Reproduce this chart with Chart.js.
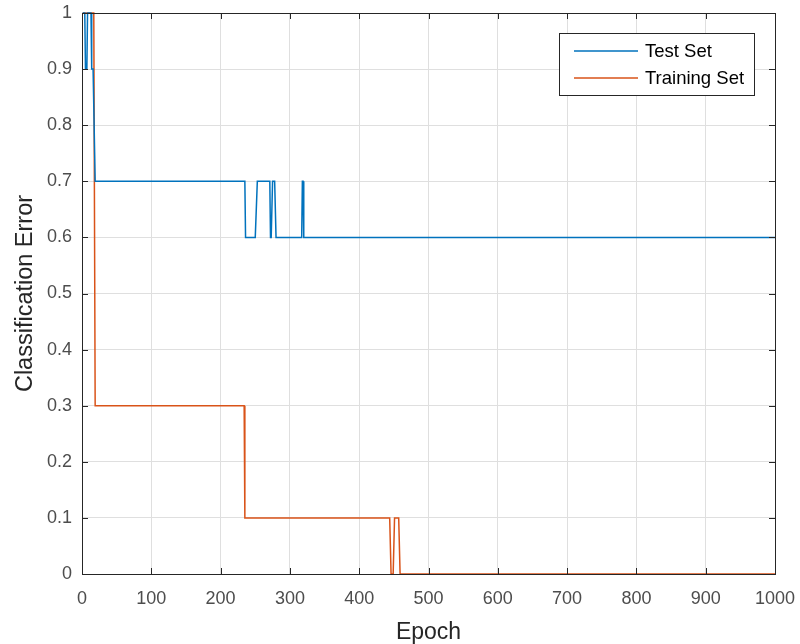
<!DOCTYPE html>
<html>
<head>
<meta charset="utf-8">
<script src="https://cdn.jsdelivr.net/npm/chart.js@4"></script>
<style>
  html, body { margin: 0; padding: 0; background: #fff; }
  #wrap { width: 800px; height: 644px; }
</style>
</head>
<body>
<div id="wrap"><canvas id="errChart" width="800" height="644"></canvas></div>
<script>
// Breakpoints: [epoch, classification error]
const testEpochs = [1, 4, 5, 7, 8, 13, 14, 16, 19, 235, 236, 250, 253, 271, 272, 273, 275, 278, 280, 317, 318, 319, 320, 1000];
const testError  = [1, 1, 0.9, 0.9, 1, 1, 0.9, 0.9, 0.7, 0.7, 0.6, 0.6, 0.7, 0.7, 0.6, 0.6, 0.7, 0.7, 0.6, 0.6, 0.7, 0.7, 0.6, 0.6];

const trainEpochs = [1, 17, 19, 234, 235, 444, 446, 449, 451, 457, 459, 1000];
const trainError  = [1, 1, 0.3, 0.3, 0.1, 0.1, 0, 0, 0.1, 0.1, 0, 0];

const xTicks = [0, 100, 200, 300, 400, 500, 600, 700, 800, 900, 1000];
const yTicks = [0, 0.1, 0.2, 0.3, 0.4, 0.5, 0.6, 0.7, 0.8, 0.9, 1];

const FONT = "'Liberation Sans', Arial, Helvetica, sans-serif";
const AXIS_COLOR = '#262626';
const TICK_TEXT = '#4d4d4d';

const toPoints = (xs, ys) => xs.map((x, i) => ({ x, y: ys[i] }));

// keep the plot box exactly where the layout padding puts it
const noEdgePadding = s => {
    s.paddingTop = 0; s.paddingBottom = 0;
    s.paddingLeft = 0; s.paddingRight = 0;
};

// MATLAB-style box, inward ticks and legend drawn on top of the data
const boxPlugin = {
    id: 'matlabBox',
    afterDatasetsDraw(chart) {
        const { ctx, chartArea: a, scales } = chart;
        ctx.save();
        ctx.strokeStyle = AXIS_COLOR;
        ctx.lineWidth = 1;
        ctx.beginPath();
        xTicks.forEach(v => {
            const px = Math.round(scales.x.getPixelForValue(v)) + 0.5;
            ctx.moveTo(px, a.bottom); ctx.lineTo(px, a.bottom - 6);
            ctx.moveTo(px, a.top); ctx.lineTo(px, a.top + 6);
        });
        yTicks.forEach(v => {
            const py = Math.round(scales.y.getPixelForValue(v)) + 0.5;
            ctx.moveTo(a.left, py); ctx.lineTo(a.left + 6, py);
            ctx.moveTo(a.right, py); ctx.lineTo(a.right - 6, py);
        });
        ctx.stroke();
        ctx.strokeRect(Math.round(a.left) + 0.5, Math.round(a.top) + 0.5,
            Math.round(a.right - a.left), Math.round(a.bottom - a.top));

        // legend
        const lx = 559.5, ly = 33.5, lw = 195, lh = 62;
        ctx.fillStyle = '#fff';
        ctx.fillRect(lx, ly, lw, lh);
        ctx.strokeStyle = AXIS_COLOR;
        ctx.strokeRect(lx, ly, lw, lh);
        ctx.font = '18.5px ' + FONT;
        ctx.textBaseline = 'middle';
        chart.data.datasets.forEach((ds, i) => {
            const y = 51 + i * 27;
            ctx.strokeStyle = ds.borderColor;
            ctx.lineWidth = 1.5;
            ctx.beginPath();
            ctx.moveTo(574, y); ctx.lineTo(638, y);
            ctx.stroke();
            ctx.fillStyle = '#000';
            ctx.fillText(ds.label, 645, y + 1);
        });
        ctx.restore();
    }
};

new Chart(document.getElementById('errChart'), {
    type: 'line',
    data: {
        datasets: [
            {
                label: 'Test Set',
                data: toPoints(testEpochs, testError),
                borderColor: '#0072BD',
                borderWidth: 1.5,
                pointRadius: 0,
                tension: 0,
                clip: 3
            },
            {
                label: 'Training Set',
                data: toPoints(trainEpochs, trainError),
                borderColor: '#D95319',
                borderWidth: 1.5,
                pointRadius: 0,
                tension: 0,
                clip: 3
            }
        ]
    },
    options: {
        responsive: false,
        animation: false,
        events: [],
        layout: { padding: { left: 0, top: 13, right: 25, bottom: 0 } },
        plugins: { legend: { display: false }, tooltip: { enabled: false } },
        scales: {
            x: {
                type: 'linear',
                min: 0,
                max: 1000,
                afterBuildTicks: s => { s.ticks = xTicks.map(v => ({ value: v })); },
                afterFit: s => { s.height = 70; noEdgePadding(s); },
                border: { display: false },
                grid: { color: '#dfdfdf', drawTicks: false },
                ticks: { color: TICK_TEXT, font: { family: FONT, size: 18 }, padding: 14, maxRotation: 0, callback: v => String(v) },
                title: { display: true, text: 'Epoch', color: '#262626', font: { family: FONT, size: 23, lineHeight: 1 }, padding: { top: 0, bottom: 0 } }
            },
            y: {
                min: 0,
                max: 1,
                afterBuildTicks: s => { s.ticks = yTicks.map(v => ({ value: v })); },
                afterFit: s => { s.width = 82; noEdgePadding(s); },
                border: { display: false },
                grid: { color: '#dfdfdf', drawTicks: false },
                ticks: {
                    color: TICK_TEXT,
                    font: { family: FONT, size: 18 },
                    padding: 10,
                    callback: v => String(+v.toFixed(1))
                },
                title: { display: true, text: 'Classification Error', color: '#262626', font: { family: FONT, size: 23.5 }, padding: { top: 11, bottom: 0 } }
            }
        }
    },
    plugins: [boxPlugin]
});
</script>
</body>
</html>
